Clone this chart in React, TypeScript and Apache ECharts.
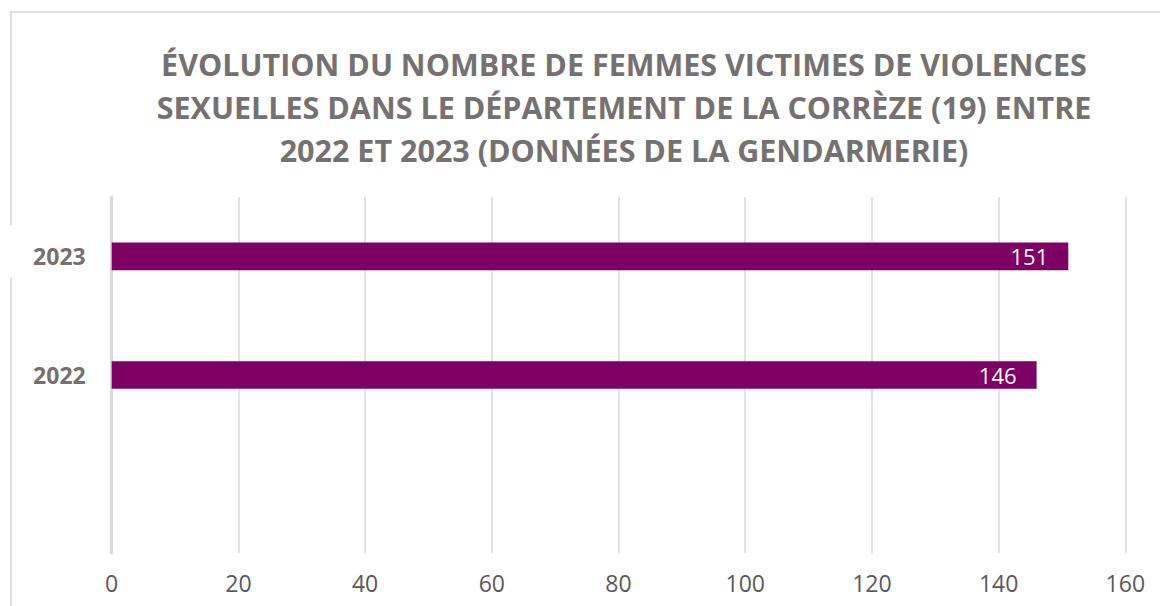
import React, { useEffect, useRef } from "react";
import * as echarts from "echarts";

const categories = ["", "2022", "2023"];
const values: (number | null)[] = [null, 146, 151];
const xTicks = { min: 0, max: 160, interval: 20 };
const titleLines = [
  "ÉVOLUTION DU NOMBRE DE FEMMES VICTIMES DE VIOLENCES",
  "SEXUELLES DANS LE DÉPARTEMENT DE LA CORRÈZE (19) ENTRE",
  "2022 ET 2023 (DONNÉES DE LA GENDARMERIE)",
];

const FONT = "'Open Sans'";

export default function App() {
  const ref = useRef<HTMLDivElement>(null);
  useEffect(() => {
    if (!ref.current) return;
    const chart = echarts.init(ref.current, undefined, { renderer: "svg" });
    chart.setOption({
      animation: false,
      backgroundColor: "#ffffff",
      grid: { left: 111.7, right: 34.7, top: 197, bottom: 53, containLabel: false },
      graphic: [
        {
          type: "rect",
          shape: { x: 11, y: 12, width: 1300, height: 800 },
          style: { fill: "none", stroke: "#dedede", lineWidth: 2 },
          silent: true,
          z: -1,
        },
        {
          type: "rect",
          shape: { x: 8, y: 225, width: 8, height: 53 },
          style: { fill: "#ffffff" },
          silent: true,
          z: 0,
        },
        {
          type: "text",
          x: 624,
          y: 42,
          style: {
            text: titleLines.join("\n"),
            font: `bold 30.5px ${FONT}`,
            fill: "#767171",
            align: "center",
            verticalAlign: "top",
            lineHeight: 43,
          },
        },
      ],
      xAxis: {
        type: "value",
        min: xTicks.min,
        max: xTicks.max,
        interval: xTicks.interval,
        axisLine: { show: false },
        axisTick: { show: false },
        splitLine: { show: true, lineStyle: { color: "#d9d9d9", width: 1.5 } },
        axisLabel: { color: "#595959", fontSize: 23, fontFamily: FONT, margin: 18 },
      },
      yAxis: {
        type: "category",
        data: categories,
        axisLine: { show: true, lineStyle: { color: "#d9d9d9", width: 3 } },
        axisTick: { show: false },
        axisLabel: { color: "#767171", fontSize: 23, fontWeight: "bold", fontFamily: FONT, margin: 26 },
      },
      series: [
        {
          type: "bar",
          data: values,
          barWidth: 27.6,
          itemStyle: { color: "#7e0062" },
          label: {
            show: true,
            position: "insideRight",
            distance: 20,
            color: "#ffffff",
            fontSize: 22,
            fontFamily: FONT,
          },
        },
      ],
    });
    return () => chart.dispose();
  }, []);
  return <div ref={ref} style={{ position: "fixed", left: 0, top: 0, width: 1160, height: 606 }} />;
}
